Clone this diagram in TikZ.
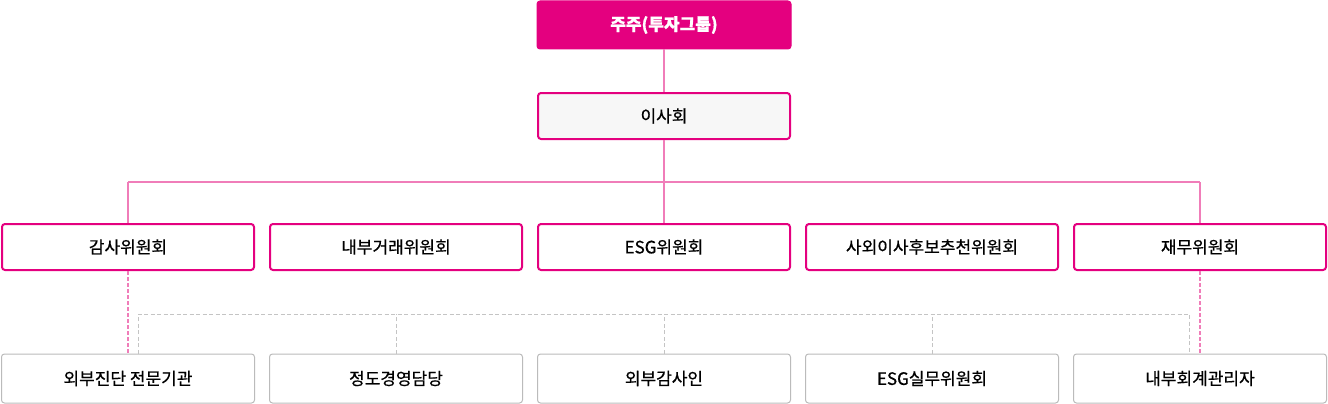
\documentclass[tikz,border=0pt]{standalone}
\usepackage{fontspec}
\setmainfont{Noto Sans CJK KR}[FakeBold=0.6]
\begin{document}
\begin{tikzpicture}[x=1pt,y=-1pt,
  every node/.style={font=\fontsize{17}{20}\selectfont},
  topbox/.style={draw=mag,fill=mag,rounded corners=3pt,line width=1pt,minimum width=254pt,minimum height=48pt,inner sep=0pt,text=white,font=\fontsize{17}{20}\selectfont\bfseries},
  midbox/.style={draw=mag,fill=white,rounded corners=3pt,line width=2pt,minimum width=252pt,minimum height=46pt,inner sep=0pt},
  lowbox/.style={draw=graybd,fill=white,rounded corners=3pt,line width=1pt,minimum width=253pt,minimum height=49pt,inner sep=0pt},
  pinkline/.style={draw=pinkln,line width=1.5pt},
  pinkdash/.style={draw=pinkln,line width=2pt,dash pattern=on 4pt off 2pt},
  graydash/.style={draw=grayln,line width=1pt,dash pattern=on 4pt off 2.5pt}]
\definecolor{mag}{HTML}{E4007F}
\definecolor{pinkln}{HTML}{F07DB9}
\definecolor{graybd}{HTML}{BBBBBB}
\definecolor{grayln}{HTML}{C4C4C4}
\definecolor{lightbg}{HTML}{F7F7F7}
\useasboundingbox (0,0) rectangle (1328,404);
\coordinate (h1) at (128,182);
\coordinate (h5) at (1200,182);
\coordinate (g1) at (138,314);
\coordinate (g5) at (1189.5,314);
\node[topbox] (sh) at (664,25) {주주(투자그룹)};
\node[midbox,fill=lightbg] (bd) at (664,116) {이사회};
\node[midbox] (c1) at (128,247) {감사위원회};
\node[midbox] (c2) at (396,247) {내부거래위원회};
\node[midbox] (c3) at (664,247) {ESG위원회};
\node[midbox] (c4) at (932,247) {사외이사후보추천위원회};
\node[midbox] (c5) at (1200,247) {재무위원회};
\node[lowbox] (l1) at (128,378.5) {외부진단 전문기관};
\node[lowbox] (l2) at (396,378.5) {정도경영담당};
\node[lowbox] (l3) at (664,378.5) {외부감사인};
\node[lowbox] (l4) at (932,378.5) {ESG실무위원회};
\node[lowbox] (l5) at (1200,378.5) {내부회계관리자};
\draw[pinkline] (sh.south) -- (bd.north);
\draw[pinkline] (bd.south) -- (c3.north);
\draw[pinkline] (h1) -- (h5);
\draw[pinkline] (c1.north) -- (h1);
\draw[pinkline] (c5.north) -- (h5);
\draw[graydash] (l1.north -| g1) -- (g1) -- (g5) -- (l5.north -| g5);
\draw[graydash] (l2.north) -- (l2.north |- g1);
\draw[graydash] (l3.north) -- (l3.north |- g1);
\draw[graydash] (l4.north) -- (l4.north |- g1);
\draw[pinkdash] (c1.south) -- (l1.north);
\draw[pinkdash] (c5.south) -- (l5.north);
\end{tikzpicture}
\end{document}
